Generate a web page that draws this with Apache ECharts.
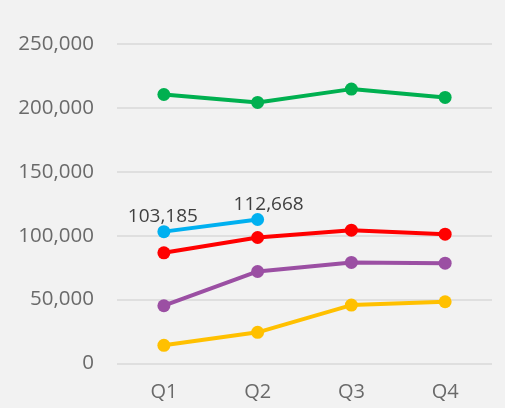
<!DOCTYPE html>
<html><head><meta charset="utf-8">
<script src="https://cdn.jsdelivr.net/npm/echarts@6/dist/echarts.min.js"></script>
<style>html,body{margin:0;padding:0;background:#f2f2f2}#c{width:505px;height:408px}</style>
</head><body><div id="c"></div>
<script>
const categories = ['Q1','Q2','Q3','Q4'];
const greenValues = [210500, 204300, 214700, 208200];
const blueValues = [103185, 112668, null, null];
const redValues = [86600, 98600, 104300, 101200];
const purpleValues = [45200, 72000, 79100, 78500];
const yellowValues = [14200, 24400, 45700, 48300];
const yTicks = [0, 50000, 100000, 150000, 200000, 250000];

const chart = echarts.init(document.getElementById('c'));
const fmt = v => v.toLocaleString('en-US');
function mk(name, data, color, extra) {
  return Object.assign({
    name, type: 'line', data, color,
    symbol: 'circle', symbolSize: 13,
    lineStyle: { width: 4, color },
    itemStyle: { color },
    emphasis: { disabled: true },
    z: 3
  }, extra || {});
}
chart.setOption({
  backgroundColor: '#f2f2f2',
  animation: false,
  grid: { left: 117, right: 13, top: 44, bottom: 44.5 },
  xAxis: {
    type: 'category', data: categories, boundaryGap: true,
    axisLine: { show: false }, axisTick: { show: false },
    axisLabel: { color: '#6a6a6a', fontSize: 20, fontFamily: 'Open Sans', margin: 19 }
  },
  yAxis: {
    type: 'value', min: yTicks[0], max: yTicks[yTicks.length-1], interval: 50000,
    axisLine: { show: false }, axisTick: { show: false },
    axisLabel: { color: '#6a6a6a', fontSize: 20.5, fontFamily: 'Open Sans', margin: 23, formatter: v => fmt(v) },
    splitLine: { lineStyle: { color: '#d9d9d9', width: 1.5 } }
  },
  series: [
    mk('Green', greenValues, '#00b050'),
    mk('Red', redValues, '#ff0000'),
    mk('Purple', purpleValues, '#9b4fa3'),
    mk('Yellow', yellowValues, '#ffc000'),
    mk('Blue', blueValues.map((v, i) => v == null ? null : {
      value: v,
      label: { show: true, position: 'top', distance: 5, offset: [i === 1 ? 11 : -1, 6] }
    }), '#00b0f0', {
      label: { show: true, color: '#404040', fontSize: 19, fontFamily: 'Open Sans', formatter: p => fmt(p.value) }
    })
  ]
});
</script></body></html>
